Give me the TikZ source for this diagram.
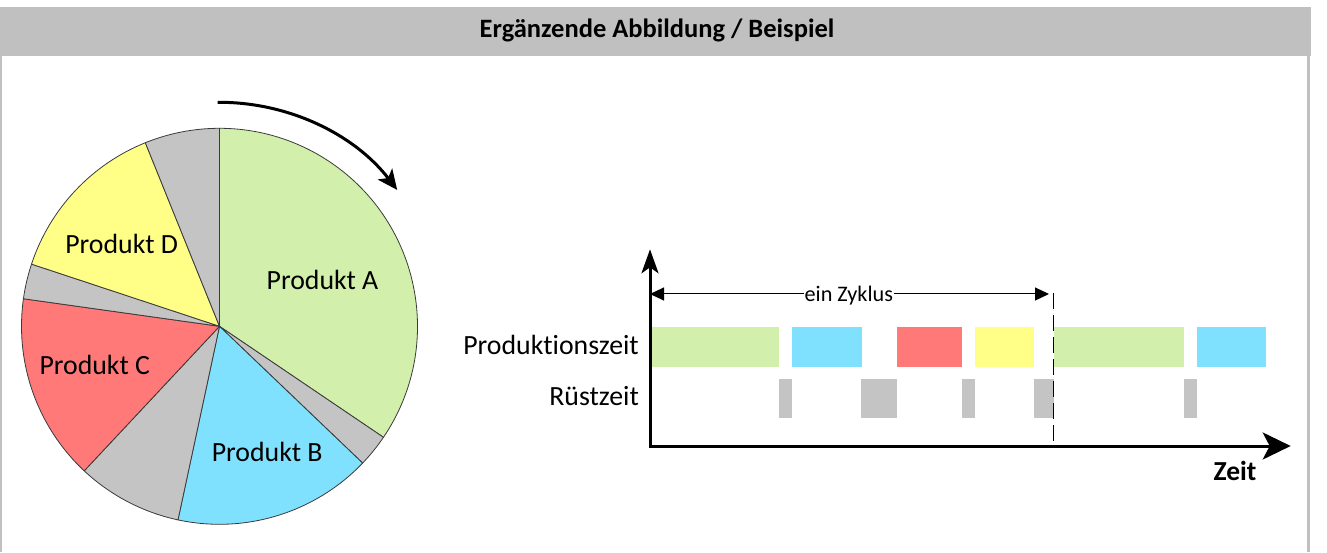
\documentclass[tikz,border=0pt]{standalone}
\usepackage{fontspec}
\setmainfont{Carlito}[Ligatures=NoCommon]
\usetikzlibrary{arrows.meta}

\definecolor{hdr}{HTML}{C0C0C0}
\definecolor{prodA}{HTML}{D2EFAB}
\definecolor{prodB}{HTML}{80E1FF}
\definecolor{prodC}{HTML}{FF7979}
\definecolor{prodD}{HTML}{FFFF88}
\definecolor{setup}{HTML}{C4C4C4}
\definecolor{pieline}{HTML}{3A3A3A}

\begin{document}
\begin{tikzpicture}[x=1pt,y=1pt,
  slice/.style={draw=pieline, line width=0.8pt, line join=round},
  lbl/.style={inner sep=0pt, font=\fontsize{27.8}{33}\selectfont},
  axis/.style={line width=3pt, line join=miter},
  cycle arrow/.style={line width=1pt,
    {Triangle[length=14pt,width=13pt]}-{Triangle[length=14pt,width=13pt]}},
]
\useasboundingbox (0,0) rectangle (1327,552);

% frame with header bar
\fill[hdr] (0,496.3) rectangle (1311,545);
\fill[hdr] (0,0) rectangle (2.3,496.3);
\fill[hdr] (1307,0) rectangle (1309.7,496.3);
\node[inner sep=0pt, font=\bfseries\fontsize{26.5}{31}\selectfont, anchor=base]
  (title) at (657,514.5) {Ergänzende Abbildung / Beispiel};

% ---------- pie chart ----------
\coordinate (pc) at (219.5,225.7);
\def\pieR{198}
\newcommand\drawslice[3]{%
  \filldraw[slice, fill=#3] (pc) -- ++(#1:\pieR)
    arc[start angle=#1, end angle=#2, radius=\pieR] -- cycle;}

\drawslice{-34.1}{90}{prodA}
\drawslice{-43.7}{-34.1}{setup}
\drawslice{-102.1}{-43.7}{prodB}
\drawslice{-133.1}{-102.1}{setup}
\drawslice{172}{226.9}{prodC}
\drawslice{161.7}{172}{setup}
\drawslice{112}{161.7}{prodD}
\drawslice{90}{112}{setup}

\node[lbl, anchor=base] (pa) at (322.5,262) {Produkt A};
\node[lbl, anchor=base] (pb) at (267.2,90.3) {Produkt B};
\node[lbl, anchor=base] (pcl) at (94.7,178) {Produkt C};
\node[lbl, anchor=base] (pd) at (121.7,298.7) {Produkt D};

% direction of rotation
\path (pc) ++(90.5:224) coordinate (rotstart);
\draw[line width=3pt, -{Stealth[length=20pt,width=18pt,inset=5pt]}]
  (rotstart) arc[start angle=90.5, end angle=37.5, radius=224];

% ---------- time line ----------
\coordinate (O) at (650,106);
\coordinate (ytip) at (650,302.7);
\coordinate (xtip) at (1290.7,106);

% production times
\fill[prodA] (650,185.3) rectangle (779,225);
\fill[prodB] (792.3,185.3) rectangle (861.5,225);
\fill[prodC] (896.8,185.3) rectangle (962,225);
\fill[prodD] (974.7,185.3) rectangle (1034,225);
\fill[prodA] (1054,185.3) rectangle (1184,225);
\fill[prodB] (1196.8,185.3) rectangle (1266.3,225);

% setup times
\fill[setup] (779,133.7) rectangle (792.3,173.3);
\fill[setup] (861.3,133.7) rectangle (897,173.3);
\fill[setup] (962,133.7) rectangle (974.5,173.3);
\fill[setup] (1034,133.7) rectangle (1053.5,173.3);
\fill[setup] (1183.5,133.7) rectangle (1197,173.3);

% end of cycle
\coordinate (cycend) at (1053.5,259);
\coordinate (cycbase) at (1053.5,106);
\draw[line width=1.3pt, dash pattern=on 16pt off 6pt] (cycend) -- (cycbase);

% axes
\draw[axis, {Stealth[length=24pt,width=17pt,inset=6pt]}-{Stealth[length=28pt,width=27pt,inset=7pt]}]
  (ytip) -- (O) -- (xtip);

% one cycle
\coordinate (cycL) at (650,258);
\coordinate (cycR) at (1049,258);
\draw[cycle arrow] (cycL) -- (cycR);
\node[fill=white, inner xsep=1pt, inner ysep=0pt, anchor=base,
  font=\fontsize{22.2}{26}\selectfont] (cyc) at (848.8,250.3) {ein Zyklus};

% row and axis labels
\node[lbl, anchor=base east] (lprod) at (639,197) {Produktionszeit};
\node[lbl, anchor=base east] (lsetup) at (639,147) {Rüstzeit};
\node[lbl, anchor=base east, font=\bfseries\fontsize{27.5}{33}\selectfont]
  (lzeit) at (1256.7,72) {Zeit};
\end{tikzpicture}
\end{document}
